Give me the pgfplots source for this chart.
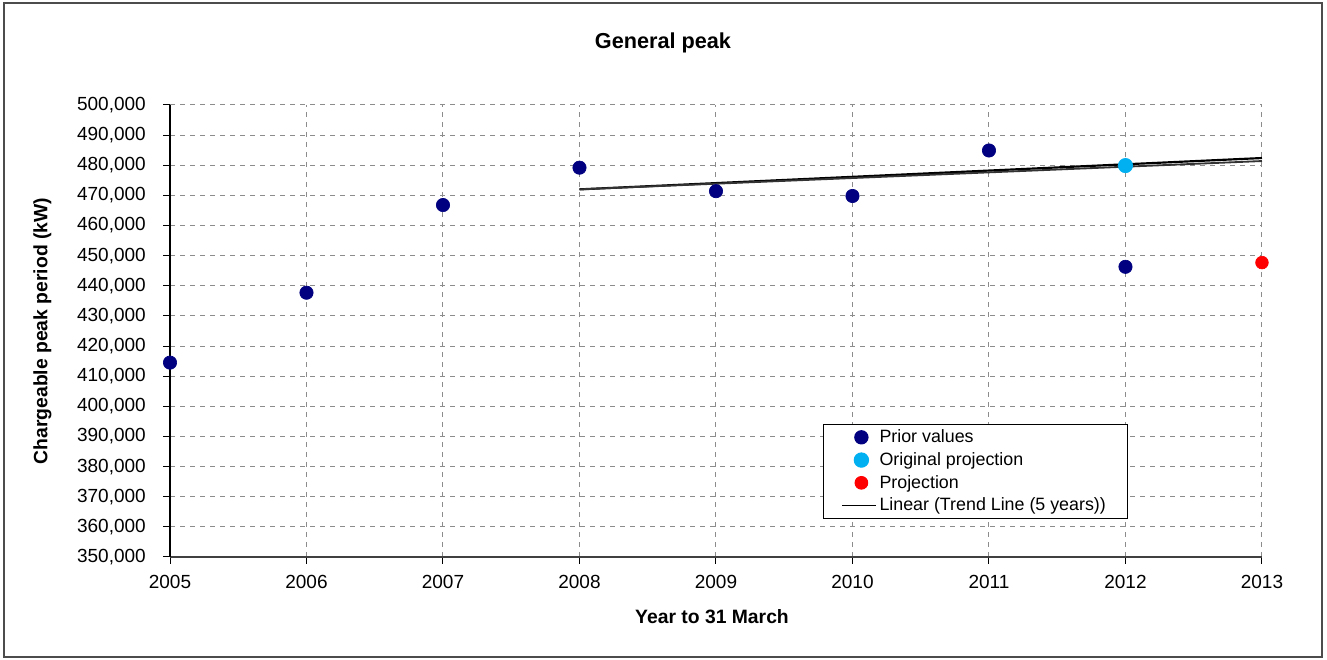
\documentclass[border=0pt]{standalone}
\usepackage{pgfplots}
\pgfplotsset{compat=1.18}
\usepackage{fontspec}
\setmainfont{Liberation Sans}
\definecolor{navyc}{RGB}{0,0,128}
\definecolor{cyanc}{RGB}{0,176,240}
\definecolor{redc}{RGB}{255,0,0}
\pgfplotsset{
  markleg/.style={legend image code/.code={\draw[mark repeat=2,mark phase=2,##1] plot coordinates {(0cm,0cm) (0.4cm,0cm) (0.7cm,0cm)};}},
  lineleg/.style={legend image code/.code={\draw[##1, line width=0.7pt] (0cm,0cm) -- (0.7cm,0cm);}},
}
\begin{document}
\begin{tikzpicture}[x=1pt,y=1pt]
\useasboundingbox (0,0) rectangle (796.2,396);
\draw[black!70, line width=0.8pt] (2.4,1.8) rectangle (793.2,394.2);
\begin{axis}[
  at={(102pt,61.8pt)}, anchor=south west,
  scale only axis, width=655.2pt, height=271.2pt,
  xmin=2005, xmax=2013, ymin=350000, ymax=500000,
  xtick={2005,2006,2007,2008,2009,2010,2011,2012,2013},
  xticklabels={2005,2006,2007,2008,2009,2010,2011,2012,2013},
  ytick={350000,360000,370000,380000,390000,400000,410000,420000,430000,440000,450000,460000,470000,480000,490000,500000},
  yticklabels={{350,000},{360,000},{370,000},{380,000},{390,000},{400,000},{410,000},{420,000},{430,000},{440,000},{450,000},{460,000},{470,000},{480,000},{490,000},{500,000}},
  scaled ticks=false,
  ticklabel style={font=\fontsize{11.4}{13}\selectfont},
  yticklabel style={xshift=-6.8pt},
  xticklabel style={yshift=-3.4pt},
  axis x line*=bottom, axis y line*=left,
  x axis line style={black!75, line width=1pt, -},
  y axis line style={black, line width=0.8pt, -},
  tick align=outside, major tick length=4.2pt,
  tick style={black, line width=0.6pt},
  grid=major,
  major grid style={black!45, dashed, line width=0.6pt},
  clip=false,
  legend style={at={(0.598,0.294)}, anchor=north west, draw=black, line width=0.6pt,
    font=\fontsize{10.7}{12}\selectfont, row sep=0.4pt, inner xsep=11pt, inner ysep=1pt},
  legend cell align=left,
]
\addplot[only marks, mark=*, mark size=4pt, color=navyc, mark options={draw=navyc, fill=navyc}, markleg]
  coordinates {(2005,414500) (2006,437700) (2007,466800) (2008,479200) (2009,471400)
               (2010,469800) (2011,484900) (2012,446300)};
\addlegendentry{Prior values}
\addplot[only marks, mark=*, mark size=4.3pt, color=cyanc, mark options={draw=cyanc, fill=cyanc}, markleg]
  coordinates {(2012,479900)};
\addlegendentry{Original projection}
\addplot[only marks, mark=*, mark size=3.8pt, color=redc, mark options={draw=redc, fill=redc}, markleg]
  coordinates {(2013,447700)};
\addlegendentry{Projection}
\addplot[black, line width=1.3pt, no marks, lineleg]
  coordinates {(2008,472000) (2013,482400)};
\addlegendentry{Linear (Trend Line (5 years))\hspace{6pt}}
\addplot[black!80, line width=1.1pt, no marks, forget plot] coordinates {(2008,472000) (2013,481400)};
\end{axis}
\node[font=\bfseries\fontsize{13}{15}\selectfont] at (397.8,370) {General peak};
\node[font=\bfseries\fontsize{11.6}{13}\selectfont, rotate=90] at (25.5,197.4) {Chargeable peak period (kW)};
\node[font=\bfseries\fontsize{11.6}{13}\selectfont] at (427.2,25.8) {Year to 31 March};
\end{tikzpicture}
\end{document}
